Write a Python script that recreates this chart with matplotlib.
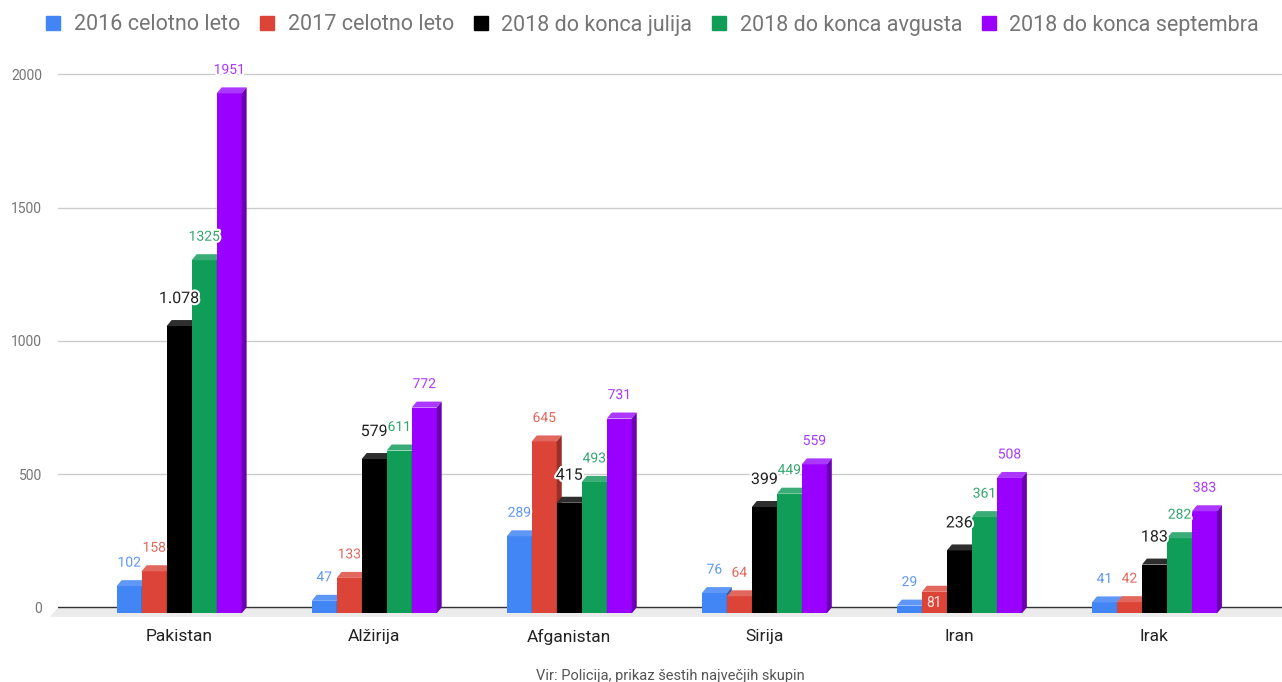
"""3D-style grouped column chart: largest groups of asylum seekers (Slovenia)."""

import matplotlib

matplotlib.use("Agg")
import matplotlib.patheffects as pe
import matplotlib.pyplot as plt
from matplotlib.lines import Line2D
from matplotlib.patches import Polygon

plt.rcParams["font.family"] = ["Roboto", "DejaVu Sans"]

categories = ["Pakistan", "Alžirija", "Afganistan", "Sirija", "Iran", "Irak"]
series_names = [
    "2016 celotno leto",
    "2017 celotno leto",
    "2018 do konca julija",
    "2018 do konca avgusta",
    "2018 do konca septembra",
]
v2016 = [102, 47, 289, 76, 29, 41]
v2017 = [158, 133, 645, 64, 81, 42]
v2018_jul = [1078, 579, 415, 399, 236, 183]
v2018_avg = [1325, 611, 493, 449, 361, 282]
v2018_sep = [1951, 772, 731, 559, 508, 383]
series_values = [v2016, v2017, v2018_jul, v2018_avg, v2018_sep]
y_ticks = [0, 500, 1000, 1500, 2000]

# front / top / side shades and label colour per series
FRONT = ["#4285f4", "#db4437", "#000000", "#0f9d58", "#9900ff"]
TOP = ["#5e97f6", "#e2675d", "#2e2e2e", "#39ad75", "#ac38ff"]
SIDE = ["#2e5dab", "#992f27", "#000000", "#0a6e3e", "#6b00b3"]
LABEL = ["#5e97f6", "#e2675d", "#222222", "#33a56f", "#a83aff"]
BIG_LABEL = {2}          # series whose labels are drawn larger
INSIDE = {(4, 1)}        # (category, series) labels drawn inside the bar

W_PX, H_PX, DPI = 1282, 682, 100
BAR_PX = 25.0            # bar width on screen
DX_PX, DY_PX = 5.0, 6.0  # 3D depth offset
FLOOR_PX = 9.5

fig = plt.figure(figsize=(W_PX / DPI, H_PX / DPI), dpi=DPI, facecolor="white")
ax = fig.add_axes([58 / W_PX, (H_PX - 618) / H_PX, (W_PX - 58) / W_PX, 557 / H_PX])
ax.set_xlim(-0.621, 5.654)
ax.set_ylim(-40, 2050)

px_x = (W_PX - 58) / (5.654 + 0.621)   # pixels per category unit
px_y = 557 / 2090                      # pixels per value unit
w = BAR_PX / px_x
ddx = DX_PX / px_x
ddy = DY_PX / px_y

# grid on the back wall
for t in y_ticks[1:]:
    ax.axhline(t, color="#cccccc", lw=1.0, zorder=0)

# floor + baseline
x0, x1 = ax.get_xlim()
fdx = 8.0 / px_x
fdy = FLOOR_PX / px_y
ax.add_patch(Polygon([(x0, 0), (x1 + 1, 0), (x1 + 1 - fdx, -fdy), (x0 - fdx, -fdy)],
                     closed=True, facecolor="#ebebeb", edgecolor="none",
                     zorder=1, clip_on=False))
ax.axhline(0, color="#333333", lw=1.0, zorder=2)

halo = [pe.withStroke(linewidth=3, foreground="white")]
z = 3
for i, cat in enumerate(categories):
    for j, vals in enumerate(series_values):
        v = vals[i]
        left = i - 2.5 * w + j * w
        right = left + w
        ax.bar(left, v, width=w, bottom=-ddy, align="edge", color=FRONT[j],
               linewidth=0, zorder=z)
        ax.add_patch(Polygon([(left, v - ddy), (right, v - ddy), (right + ddx, v), (left + ddx, v)],
                             closed=True, facecolor=TOP[j], edgecolor="none", zorder=z + 0.1))
        ax.add_patch(Polygon([(right, -ddy), (right, v - ddy), (right + ddx, v), (right + ddx, 0)],
                             closed=True, facecolor=SIDE[j], edgecolor="none", zorder=z + 0.1))
        z += 0.2

        text = f"{v:,}".replace(",", ".") if j in BIG_LABEL else str(v)
        cx = left + w / 2
        if (i, j) in INSIDE:
            ax.annotate(text, (cx, v - ddy), xytext=(0, -11), textcoords="offset pixels",
                        ha="center", va="center", fontsize=10, color="#fde6e4", zorder=50)
        elif j in BIG_LABEL:
            ax.annotate(text, (cx, v), xytext=(0, 21.5), textcoords="offset pixels",
                        ha="center", va="center", fontsize=11.5, color=LABEL[j],
                        path_effects=halo, zorder=50)
        else:
            ax.annotate(text, (cx, v), xytext=(0, 17.5), textcoords="offset pixels",
                        ha="center", va="center", fontsize=10, color=LABEL[j],
                        path_effects=halo, zorder=50)

ax.set_yticks(y_ticks)
ax.set_yticklabels([str(t) for t in y_ticks])
ax.set_xticks(range(len(categories)))
ax.set_xticklabels(categories)
ax.tick_params(axis="y", length=0, pad=11.5, labelsize=10, labelcolor="#757575")
ax.tick_params(axis="x", length=0, pad=8, labelsize=12.5, labelcolor="#222222")
for spine in ax.spines.values():
    spine.set_visible(False)

handles = [Line2D([], [], marker="s", ls="", color=c, markersize=9.5) for c in FRONT]
leg = fig.legend(handles, series_names, ncol=5, loc="center",
                 bbox_to_anchor=(652 / W_PX, 1 - 25 / H_PX), frameon=False,
                 fontsize=15.5, handlelength=0.8, handletextpad=0.55, columnspacing=0.85)
for t in leg.get_texts():
    t.set_color("#757575")

fig.text(670 / W_PX, 1 - 676 / H_PX, "Vir: Policija, prikaz šestih največjih skupin",
         ha="center", va="center", fontsize=10.5, color="#555555")

fig.savefig("out.png", dpi=DPI, facecolor="white")
